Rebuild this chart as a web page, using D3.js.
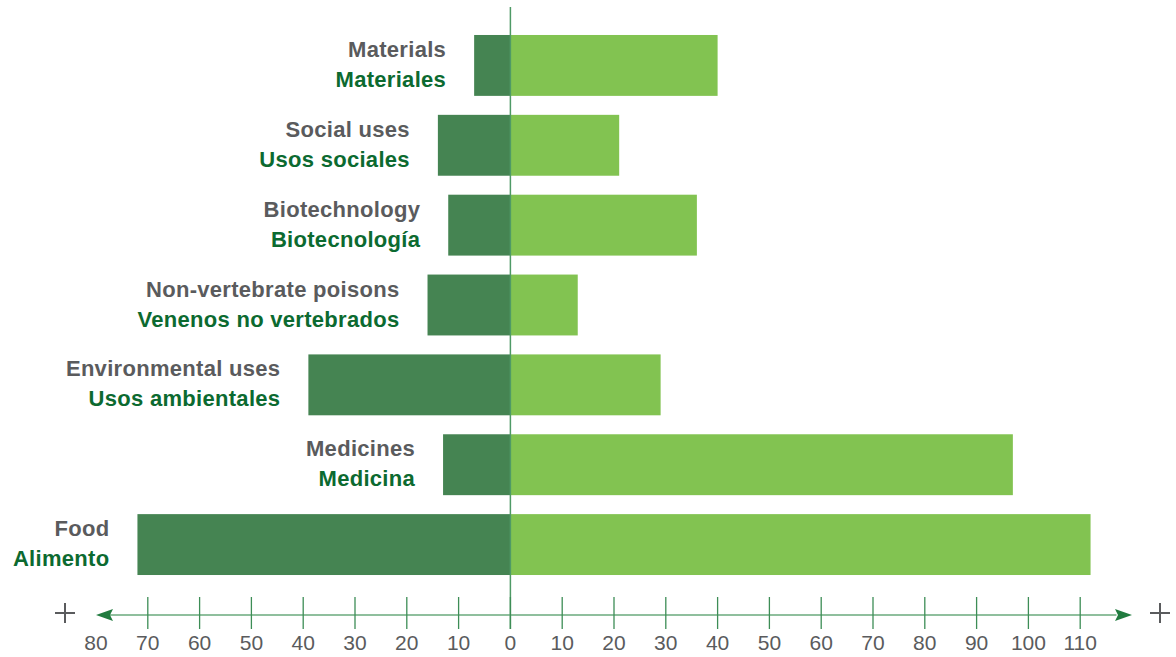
<!DOCTYPE html>
<html>
<head>
<meta charset="utf-8">
<script src="https://cdn.jsdelivr.net/npm/d3@7"></script>
<style>
  body { margin: 0; background: #fff; }
  svg { display: block; font-family: "Liberation Sans", Arial, sans-serif; }
</style>
</head>
<body>
<div id="chart"></div>
<script>
// Data
const labelsEn = ["Materials", "Social uses", "Biotechnology", "Non-vertebrate poisons", "Environmental uses", "Medicines", "Food"];
const labelsEs = ["Materiales", "Usos sociales", "Biotecnología", "Venenos no vertebrados", "Usos ambientales", "Medicina", "Alimento"];
const leftValues = [7, 14, 12, 16, 39, 13, 72];
const rightValues = [40, 21, 36, 13, 29, 97, 112];
const tickValues = [-80, -70, -60, -50, -40, -30, -20, -10, 0, 10, 20, 30, 40, 50, 60, 70, 80, 90, 100, 110];

const width = 1176, height = 657;

const svg = d3.select("#chart")
    .append("svg")
    .attr("width", width)
    .attr("height", height);

// Scales
const x = d3.scaleLinear().domain([-80, 120]).range([96, 1132]);
const y = d3.scaleBand()
    .domain(labelsEn)
    .range([25.5, 584.5])
    .paddingInner(0.2375)
    .paddingOuter(0.11875);

const rows = labelsEn.map((en, i) => ({ en, es: labelsEs[i], left: leftValues[i], right: rightValues[i] }));

// Bars
svg.append("g").selectAll("rect")
    .data(rows)
    .join("rect")
    .attr("x", d => x(-d.left))
    .attr("y", d => y(d.en))
    .attr("width", d => x(0) - x(-d.left))
    .attr("height", y.bandwidth())
    .attr("fill", "#458452");

svg.append("g").selectAll("rect")
    .data(rows)
    .join("rect")
    .attr("x", x(0))
    .attr("y", d => y(d.en))
    .attr("width", d => x(d.right) - x(0))
    .attr("height", y.bandwidth())
    .attr("fill", "#82c351");

// Center line
svg.append("line")
    .attr("x1", x(0)).attr("x2", x(0))
    .attr("y1", 7).attr("y2", 629)
    .attr("stroke", "#4f9a66")
    .attr("stroke-width", 1.5);

// Category labels
const labels = svg.append("g").selectAll("g")
    .data(rows)
    .join("g")
    .attr("transform", d => `translate(${x(-d.left) - 28},${y(d.en) + y.bandwidth() / 2})`)
    .style("font-weight", "bold")
    .style("font-size", "22px")
    .style("letter-spacing", "0.3px")
    .attr("text-anchor", "end");

labels.append("text")
    .attr("y", -8.5)
    .attr("fill", "#5a5b5d")
    .text(d => d.en);

labels.append("text")
    .attr("y", 21.5)
    .attr("fill", "#0c6a30")
    .text(d => d.es);

// Axis
const axisY = 615;
const axis = svg.append("g");

axis.append("line")
    .attr("x1", x(-78)).attr("x2", x(117))
    .attr("y1", axisY).attr("y2", axisY)
    .attr("stroke", "#6aaa7c")
    .attr("stroke-width", 1.5);

axis.selectAll(".tick")
    .data(tickValues.filter(v => v > -80))
    .join("line")
    .attr("class", "tick")
    .attr("x1", d => x(d)).attr("x2", d => x(d))
    .attr("y1", 597).attr("y2", 629)
    .attr("stroke", "#3d8d56")
    .attr("stroke-width", 1.3);

axis.selectAll(".tick-label")
    .data(tickValues)
    .join("text")
    .attr("class", "tick-label")
    .attr("x", d => x(d))
    .attr("y", 650)
    .attr("text-anchor", "middle")
    .attr("fill", "#5a5b5d")
    .style("font-size", "21px")
    .text(d => Math.abs(d));

// Arrow heads
axis.append("path")
    .attr("d", `M${x(-80)},${axisY} L${x(-80) + 17},${axisY - 6} L${x(-80) + 14},${axisY} L${x(-80) + 17},${axisY + 6} Z`)
    .attr("fill", "#217b3f");
axis.append("path")
    .attr("d", `M${x(120)},${axisY} L${x(120) - 17},${axisY - 6} L${x(120) - 14},${axisY} L${x(120) - 17},${axisY + 6} Z`)
    .attr("fill", "#217b3f");

// Plus signs at the ends
[65, 1160].forEach(cx => {
    axis.append("path")
        .attr("d", `M${cx - 10},${axisY - 2} H${cx + 10} M${cx},${axisY - 12} V${axisY + 8}`)
        .attr("stroke", "#5a5b5d")
        .attr("stroke-width", 2);
});
</script>
</body>
</html>
